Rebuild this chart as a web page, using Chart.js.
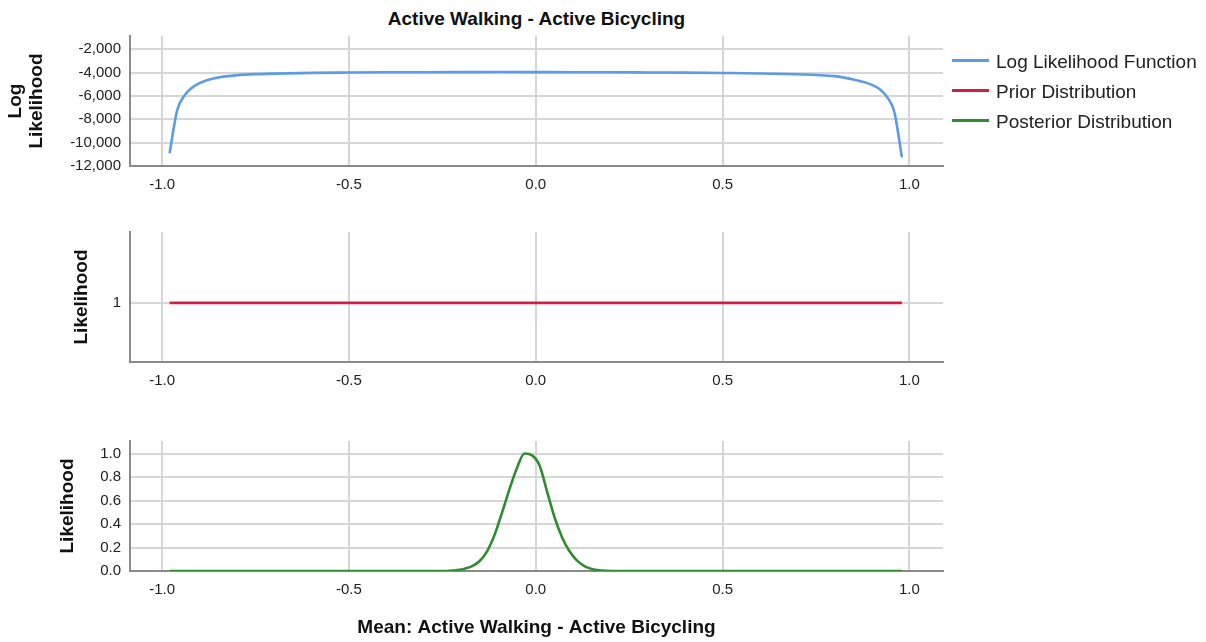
<!DOCTYPE html>
<html>
<head>
<meta charset="utf-8">
<script src="https://cdn.jsdelivr.net/npm/chart.js@4.4.1/dist/chart.umd.min.js"></script>
<style>
  body { margin: 0; background: #fff; font-family: "Liberation Sans", Arial, sans-serif; }
  #wrap { position: relative; width: 1206px; height: 642px; overflow: hidden; }
  canvas { position: absolute; left: 0; }
  .title { position: absolute; left: 130px; width: 813px; top: 8px; text-align: center;
           font-weight: bold; font-size: 19px; line-height: 22px; color: #111; }
  .leg { position: absolute; left: 952px; font-size: 19px; line-height: 22px; color: #222; }
  .leg span.ln { position: absolute; left: 0; width: 37px; height: 3px; top: 8px; }
  .leg span.tx { position: absolute; left: 44px; white-space: nowrap; }
</style>
</head>
<body>
<div id="wrap">
  <div class="title">Active Walking - Active Bicycling</div>
  <canvas id="logChart" width="1206" height="200" style="top:0"></canvas>
  <canvas id="priorChart" width="1206" height="200" style="top:200px"></canvas>
  <canvas id="postChart" width="1206" height="242" style="top:400px"></canvas>
  <div class="leg" style="top:51px"><span class="ln" style="background:#5b9bea"></span><span class="tx">Log Likelihood Function</span></div>
  <div class="leg" style="top:81px"><span class="ln" style="background:#d81b43"></span><span class="tx">Prior Distribution</span></div>
  <div class="leg" style="top:111px"><span class="ln" style="background:#2f8c2f"></span><span class="tx">Posterior Distribution</span></div>
</div>
<script>
  // values
  var xTicks = [-1.0, -0.5, 0.0, 0.5, 1.0];

  var logLikX = [-0.98, -0.96, -0.94, -0.92, -0.90, -0.88, -0.85, -0.80, -0.75, -0.70, -0.60, -0.50, -0.40,
                 -0.30, -0.20, -0.10, 0.00, 0.10, 0.20, 0.30, 0.40, 0.50, 0.60, 0.70, 0.75, 0.80, 0.85,
                 0.88, 0.90, 0.92, 0.94, 0.96, 0.98];
  var logLikY = [-10900, -7250, -5950, -5300, -4900, -4650, -4420, -4230, -4130, -4080, -4020, -3990, -3970,
                 -3960, -3955, -3950, -3955, -3960, -3970, -3985, -4000, -4030, -4070, -4140, -4200, -4300, -4580,
                 -4820, -5050, -5400, -6080, -7400, -11250];
  var logTicks = [-12000, -10000, -8000, -6000, -4000, -2000];

  var priorX = [-0.98, 0.98];
  var priorY = [1, 1];
  var priorTicks = [1];

  var postX = [-0.98, -0.25, -0.23, -0.21, -0.19, -0.17, -0.15, -0.13, -0.11, -0.09, -0.07, -0.05, -0.03,
               -0.01, 0.01, 0.03, 0.05, 0.07, 0.09, 0.11, 0.13, 0.15, 0.17, 0.19, 0.21, 0.98];
  var postY = [0, 0, 0.002, 0.008, 0.02, 0.042, 0.085, 0.17, 0.31, 0.5, 0.7, 0.88, 1.0,
               0.985, 0.9, 0.68, 0.46, 0.29, 0.17, 0.09, 0.042, 0.017, 0.006, 0.002, 0, 0];
  var postTicks = [0, 0.2, 0.4, 0.6, 0.8, 1.0];

  var tickFont = { family: "'Liberation Sans', Arial, sans-serif", size: 15 };
  var titleFont = { family: "'Liberation Sans', Arial, sans-serif", size: 19, weight: "bold", lineHeight: 1.08 };
  var gridColor = "#d6d6d6";
  var axisColor = "#8a8a8a";

  function pts(xs, ys) {
    return xs.map(function (x, i) { return { x: x, y: ys[i] }; });
  }

  function setTicks(list) {
    return function (scale) {
      scale.ticks = list.map(function (v) { return { value: v }; });
    };
  }

  function makeChart(id, cfg) {
    return new Chart(id, {
      type: "line",
      data: {
        datasets: [{
          data: pts(cfg.xs, cfg.ys),
          borderColor: cfg.color,
          borderWidth: 2.6,
          pointRadius: 0,
          fill: false,
          cubicInterpolationMode: "monotone",
        }],
      },
      options: {
        responsive: false,
        animation: false,
        layout: { padding: { left: 0, right: 263, top: cfg.top, bottom: 0 } },
        plugins: {
          legend: { display: false },
          tooltip: { enabled: false },
        },
        scales: {
          x: {
            type: "linear",
            min: -1.086,
            max: 1.09,
            afterBuildTicks: setTicks(xTicks),
            afterFit: function (scale) { scale.height = cfg.xHeight; },
            grid: { color: gridColor, lineWidth: 2, drawTicks: false },
            border: { color: axisColor, width: 2 },
            ticks: {
              color: "#222",
              font: tickFont,
              padding: 10,
              maxRotation: 0,
              callback: function (v) { return Number(v).toFixed(1); },
            },
            title: cfg.xTitle ? {
              display: true,
              text: cfg.xTitle,
              color: "#111",
              font: titleFont,
              padding: { top: 0, bottom: 4 },
              align: "center",
            } : { display: false },
          },
          y: {
            min: cfg.yMin,
            max: cfg.yMax,
            afterBuildTicks: setTicks(cfg.yTicks),
            afterFit: function (scale) { scale.width = 130; },
            grid: { color: gridColor, lineWidth: 2, drawTicks: false },
            border: { color: axisColor, width: 2 },
            ticks: {
              color: "#222",
              font: tickFont,
              padding: 9,
              callback: cfg.yFormat,
            },
            title: {
              display: true,
              text: cfg.yTitle,
              color: "#111",
              font: titleFont,
              padding: { top: cfg.yTitlePad, bottom: 0 },
            },
          },
        },
      },
    });
  }

  makeChart("logChart", {
    xs: logLikX, ys: logLikY, color: "#5b9bea",
    top: 36, xHeight: 34,
    yMin: -12000, yMax: -860, yTicks: logTicks,
    yFormat: function (v) { return Number(v).toLocaleString("en-US"); },
    yTitle: ["Log", "Likelihood"], yTitlePad: 6,
  });

  makeChart("priorChart", {
    xs: priorX, ys: priorY, color: "#d81b43",
    top: 32, xHeight: 38,
    yMin: 0, yMax: 2.2, yTicks: priorTicks,
    yFormat: function (v) { return String(v); },
    yTitle: "Likelihood", yTitlePad: 72,
  });

  makeChart("postChart", {
    xs: postX, ys: postY, color: "#2f8c2f",
    top: 41, xHeight: 71,
    yMin: 0, yMax: 1.107, yTicks: postTicks,
    yFormat: function (v) { return Number(v).toFixed(1); },
    yTitle: "Likelihood", yTitlePad: 58,
    xTitle: "Mean: Active Walking - Active Bicycling",
  });
</script>
</body>
</html>
